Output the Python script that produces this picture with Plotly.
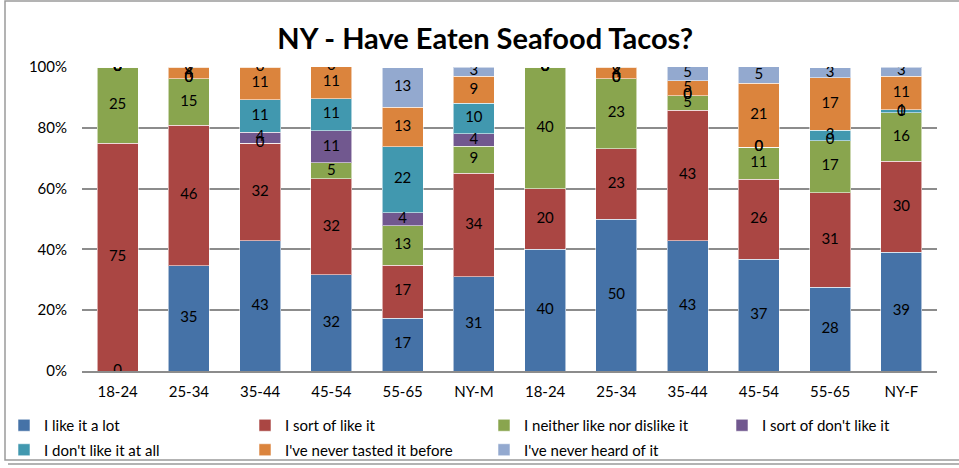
import math
import numpy as np
import plotly.graph_objects as go

categories = ["18-24", "25-34", "35-44", "45-54", "55-65", "NY-M",
              "18-24", "25-34", "35-44", "45-54", "55-65", "NY-F"]

series_names = ["I like it a lot", "I sort of like it", "I neither like nor dislike it",
                "I sort of don't like it", "I don't like it at all",
                "I've never tasted it before", "I've never heard of it"]

like_a_lot   = [0.0, 34.6, 42.9, 31.6, 17.4, 31.0, 40.0, 50.0, 42.9, 36.8, 27.6, 39.0]
sort_of_like = [75.0, 46.2, 32.1, 31.6, 17.4, 34.0, 20.0, 23.1, 42.9, 26.3, 31.0, 30.0]
neither      = [25.0, 15.4, 0.0, 5.3, 13.0, 9.0, 40.0, 23.1, 4.8, 10.53, 17.2, 16.0]
sort_dont    = [0.0, 0.0, 3.6, 10.53, 4.3, 4.0, 0.0, 0.0, 0.0, 0.0, 0.0, 0.0]
dont_at_all  = [0.0, 0.0, 10.7, 10.53, 21.7, 10.0, 0.0, 0.0, 0.0, 0.0, 3.4, 1.0]
never_tasted = [0.0, 3.8, 10.7, 10.53, 13.0, 9.0, 0.0, 3.8, 4.8, 21.1, 17.2, 11.0]
never_heard  = [0.0, 0.0, 0.0, 0.0, 13.0, 3.0, 0.0, 0.0, 4.8, 5.3, 3.4, 3.0]

y_ticks = [0, 20, 40, 60, 80, 100]
y_tick_labels = ["0%", "20%", "40%", "60%", "80%", "100%"]

colors = ["#4572A7", "#AA4643", "#89A54E", "#71588F", "#4198AF", "#DB843D", "#93A9CF"]

series_values = [like_a_lot, sort_of_like, neither, sort_dont, dont_at_all, never_tasted, never_heard]

FONT = "Lato, 'Open Sans', sans-serif"
xs = list(range(len(categories)))

# legend laid out as in the reference: 4 columns, 2 rows
legend_ids = ["legend", "legend2", "legend3", "legend4"]

fig = go.Figure()
for i, (name, vals, col) in enumerate(zip(series_names, series_values, colors)):
    fig.add_trace(go.Bar(
        x=xs, y=vals, name=name,
        legend=legend_ids[i % 4], legendgroup=f"g{i}",
        marker=dict(color=col, line=dict(color="rgba(255,255,255,0.55)", width=1)),
        hoverinfo="skip",
    ))

# data labels at segment centres (including zero-height segments, like Excel)
base = np.zeros(len(categories))
for vals in series_values:
    v = np.array(vals)
    fig.add_trace(go.Scatter(
        x=xs, y=base + v / 2, mode="text",
        text=[str(int(math.floor(a + 0.5))) for a in v],
        textfont=dict(family=FONT, size=15, color="#000000"),
        showlegend=False, hoverinfo="skip",
    ))
    base = base + v

L, R, T, B = 82, 22, 67, 97
W, H = 959, 468
pw, ph = W - L - R, H - T - B

def px(x):
    return (x - L) / pw

def py(y):
    return (H - B - y) / ph

legend_common = dict(orientation="v", xanchor="left", yanchor="top",
                     traceorder="grouped", tracegroupgap=2,
                     font=dict(family=FONT, size=15), itemclick=False,
                     bgcolor="rgba(0,0,0,0)")
legend_cols = [4, 245, 484, 722]

layout_legends = {lid: dict(x=px(cx), y=py(409), **legend_common)
                  for lid, cx in zip(legend_ids, legend_cols)}

fig.update_layout(
    width=W, height=H,
    margin=dict(l=L, r=R, t=T, b=B, autoexpand=False),
    barmode="stack",
    bargap=0.425,
    paper_bgcolor="white",
    plot_bgcolor="white",
    font=dict(family=FONT, size=15, color="#000000"),
    title=dict(text="<b>NY - Have Eaten Seafood Tacos?</b>", x=0.506, xanchor="center",
               y=1 - 39 / H, yanchor="middle", font=dict(family=FONT, size=29, color="#000000")),
    xaxis=dict(tickmode="array", tickvals=xs, ticktext=categories,
               range=[-0.5, len(categories) - 0.5], showgrid=False,
               showline=True, linecolor="#8c8c8c", linewidth=1.5,
               ticks="", tickfont=dict(size=15), ticklabelstandoff=6, fixedrange=True),
    yaxis=dict(range=[0, 100], tickmode="array", tickvals=y_ticks, ticktext=y_tick_labels,
               showgrid=True, gridcolor="#8c8c8c", gridwidth=1.5, zeroline=False,
               showline=False, ticks="", tickfont=dict(size=15), ticklabelstandoff=14,
               fixedrange=True),
    showlegend=True,
    shapes=[
        dict(type="rect", xref="paper", yref="paper", x0=px(5), x1=px(965), y0=py(1), y1=py(460),
             line=dict(color="#9a9a9a", width=1.5), fillcolor="rgba(0,0,0,0)", layer="below"),
        dict(type="line", xref="paper", yref="paper", x0=px(8), x1=px(965), y0=py(464), y1=py(464),
             line=dict(color="#9a9a9a", width=1.5)),
    ],
    **layout_legends,
)

fig.write_html("out.html", config={"displayModeBar": False},
               post_script="document.body.style.margin='0px';document.body.style.overflow='hidden';")
